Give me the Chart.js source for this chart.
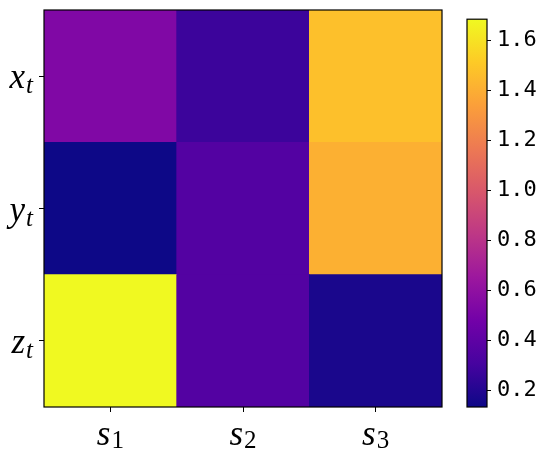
<!DOCTYPE html>
<html>
<head>
<meta charset="utf-8">
<script src="https://cdn.jsdelivr.net/npm/chart.js@4"></script>
<style>
  body { margin: 0; background: #fff; }
  #wrap { position: relative; width: 546px; height: 460px; }
  #main { position: absolute; left: 0; top: 0; }
  #cbar { position: absolute; left: 440px; top: 0; }
</style>
</head>
<body>
<div id="wrap">
  <canvas id="main" width="546" height="460"></canvas>
  <canvas id="cbar" width="106" height="460"></canvas>
</div>
<script>
// heatmap data, rows top to bottom
const rowLabels = ['x_t', 'y_t', 'z_t'];
const colLabels = ['s_1', 's_2', 's_3'];
const rowX = [0.536, 0.275, 1.473];
const rowY = [0.134, 0.357, 1.409];
const rowZ = [1.685, 0.357, 0.173];
const cbTicks = [0.2, 0.4, 0.6, 0.8, 1.0, 1.2, 1.4, 1.6];

// plasma colormap stops
const plasma = ['#0d0887', '#46039f', '#7201a8', '#9c179e', '#bd3786',
                '#d8576b', '#ed7953', '#fb9f3a', '#fdca26', '#f0f921'];

const rows = [rowX, rowY, rowZ];
const allVals = rows.flat();
const vmin = Math.min(...allVals);
const vmax = Math.max(...allVals);

const SERIF = '"Liberation Serif", "Times New Roman", Times, "DejaVu Serif", serif';
const MONO = '"DejaVu Sans Mono", monospace';

function hexToRgb(h) {
  return [1, 3, 5].map(i => parseInt(h.substr(i, 2), 16));
}
function plasmaColor(v) {
  let t = (v - vmin) / (vmax - vmin);
  t = Math.max(0, Math.min(1, t));
  const pos = t * (plasma.length - 1);
  const i = Math.min(Math.floor(pos), plasma.length - 2);
  const f = pos - i;
  const a = hexToRgb(plasma[i]), b = hexToRgb(plasma[i + 1]);
  const c = a.map((x, k) => Math.round(x + (b[k] - x) * f));
  return `rgb(${c[0]},${c[1]},${c[2]})`;
}

// draws "base_sub" mathtext-like label
function drawMath(ctx, label, x, baseline, align) {
  const [base, sub] = label.split('_');
  const baseFont = 'italic 35px ' + SERIF;
  const subIsDigit = /^[0-9]+$/.test(sub);
  const subFont = (subIsDigit ? 'normal ' : 'italic ') + '25px ' + SERIF;
  const subDrop = subIsDigit ? 3 : 5;
  ctx.save();
  ctx.fillStyle = '#000';
  ctx.textAlign = 'left';
  ctx.textBaseline = 'alphabetic';
  ctx.font = baseFont;
  const wb = ctx.measureText(base).width;
  ctx.font = subFont;
  const ws = ctx.measureText(sub).width;
  const total = wb + 1 + ws;
  const x0 = align === 'right' ? x - total : x - total / 2;
  ctx.font = baseFont;
  ctx.fillText(base, x0, baseline);
  ctx.font = subFont;
  ctx.fillText(sub, x0 + wb + 1, baseline + subDrop);
  ctx.restore();
}

const framePlugin = {
  id: 'frame',
  afterDraw(chart) {
    const a = chart.chartArea, ctx = chart.ctx;
    ctx.save();
    ctx.strokeStyle = '#000';
    ctx.lineWidth = 1.2;
    ctx.strokeRect(a.left, a.top, a.right - a.left, a.bottom - a.top);
    ctx.restore();
  }
};

const labelPlugin = {
  id: 'mathLabels',
  afterDraw(chart) {
    const ctx = chart.ctx;
    const xs = chart.scales.x, ys = chart.scales.y;
    rowLabels.forEach((lab, i) => {
      const y = ys.getPixelForValue(rowLabels.length - 1 - i + 0.5);
      drawMath(ctx, lab, xs.left - 11, y + 12, 'right');
    });
    colLabels.forEach((lab, i) => {
      const x = xs.getPixelForValue(i);
      drawMath(ctx, lab, x, ys.bottom + 38, 'center');
    });
  }
};

function makeCharts() {
  // stacked bars, bottom row first
  const datasets = rows.slice().reverse().map(r => ({
    data: r.map(() => 1),
    backgroundColor: r.map(plasmaColor),
    borderWidth: 0,
    barPercentage: 1,
    categoryPercentage: 1
  }));

  const axisGrid = {
    display: true,
    drawOnChartArea: false,
    drawTicks: true,
    tickLength: 5,
    color: '#000',
    lineWidth: 1,
    offset: false
  };

  new Chart(document.getElementById('main'), {
    type: 'bar',
    data: { labels: colLabels, datasets: datasets },
    options: {
      responsive: false,
      animation: false,
      layout: { padding: { left: 0, top: 10, right: 104, bottom: 0 } },
      plugins: { legend: { display: false }, tooltip: { enabled: false } },
      scales: {
        x: {
          stacked: true,
          grid: axisGrid,
          border: { display: false },
          ticks: { display: false },
          afterFit: s => { s.height = 53; }
        },
        y: {
          stacked: true,
          min: 0,
          max: rowLabels.length,
          grid: axisGrid,
          border: { display: false },
          ticks: { display: false },
          afterBuildTicks: s => { s.ticks = [0.5, 1.5, 2.5].map(v => ({ value: v })); },
          afterFit: s => { s.width = 44; }
        }
      }
    },
    plugins: [framePlugin, labelPlugin]
  });

  // colorbar
  new Chart(document.getElementById('cbar'), {
    type: 'bar',
    data: {
      labels: ['cb'],
      datasets: [{
        data: [[vmin, vmax]],
        backgroundColor: c => {
          const a = c.chart.chartArea;
          if (!a) return plasma[0];
          const g = c.chart.ctx.createLinearGradient(0, a.bottom, 0, a.top);
          plasma.forEach((col, i) => g.addColorStop(i / (plasma.length - 1), col));
          return g;
        },
        borderWidth: 0,
        barPercentage: 1,
        categoryPercentage: 1
      }]
    },
    options: {
      responsive: false,
      animation: false,
      layout: { padding: { left: 27, top: 10, right: 0, bottom: 53 } },
      plugins: { legend: { display: false }, tooltip: { enabled: false } },
      scales: {
        x: { display: false },
        y: {
          position: 'right',
          min: vmin,
          max: vmax,
          grid: { display: true, drawOnChartArea: false, drawTicks: true, tickLength: 4, color: '#000' },
          border: { display: false },
          afterBuildTicks: s => { s.ticks = cbTicks.map(v => ({ value: v })); },
          ticks: {
            color: '#000',
            padding: 6,
            autoSkip: false,
            font: { family: MONO, size: 22 },
            callback: v => Number(v).toFixed(1)
          },
          afterFit: s => { s.width = 59; }
        }
      }
    },
    plugins: [framePlugin]
  });
}

Promise.all([
  document.fonts.load('italic 35px "Liberation Serif"'),
  document.fonts.load('25px "Liberation Serif"'),
  document.fonts.load('22px "DejaVu Sans Mono"')
]).catch(() => {}).then(makeCharts);
</script>
</body>
</html>
